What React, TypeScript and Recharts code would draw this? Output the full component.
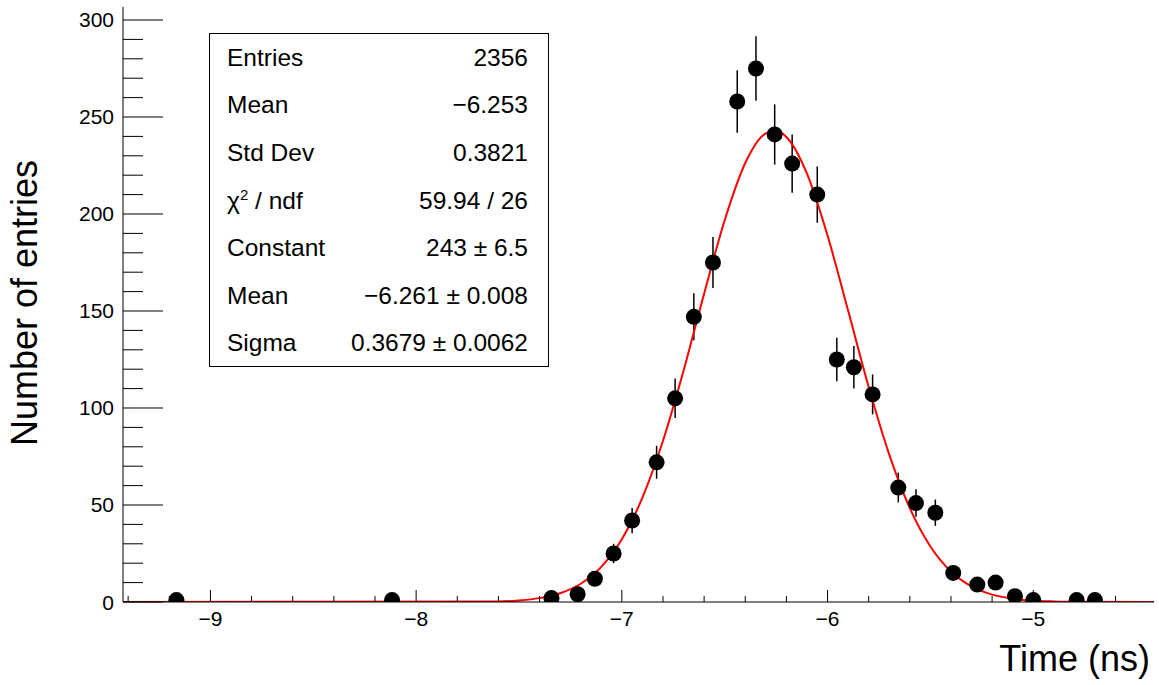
import React from 'react';
import {
  ComposedChart,
  Scatter,
  Line,
  XAxis,
  YAxis,
  ErrorBar,
} from 'recharts';

// histogram bins (bin centre in ns), counts
const binCenters = [
  -9.165, -8.117, -7.342, -7.215, -7.131, -7.04, -6.95, -6.831, -6.741, -6.65,
  -6.557, -6.439, -6.348, -6.257, -6.172, -6.05, -5.955, -5.872, -5.781, -5.656,
  -5.57, -5.476, -5.389, -5.272, -5.183, -5.089, -5.0, -4.789, -4.7,
];
const counts = [
  1, 1, 2, 4, 12, 25, 42, 72, 105, 147,
  175, 258, 275, 241, 226, 210, 125, 121, 107, 59,
  51, 46, 15, 9, 10, 3, 1, 1, 1,
];
const countErrors = [
  1, 1, 1.4, 2, 3.5, 5, 6.5, 8.5, 10.2, 12.1,
  13.2, 16.1, 16.6, 15.5, 15, 14.5, 11.2, 11, 10.3, 7.7,
  7.1, 6.8, 3.9, 3, 3.2, 1.7, 1, 1, 1,
];

// gaussian fit curve, sampled along the red line
const fitX = [
  -9.425, -7.6, -7.5, -7.4, -7.3, -7.2, -7.1, -7.0, -6.9, -6.8, -6.7, -6.6, -6.5,
  -6.4, -6.3, -6.25, -6.2, -6.1, -6.0, -5.9, -5.8, -5.7, -5.6, -5.5, -5.4, -5.3,
  -5.2, -5.1, -5.0, -4.9, -4.8, -4.413,
];
const fitY = [
  0, 0.3, 0.8, 2.0, 4.5, 9.4, 18.1, 32.3, 53.8, 83.1, 119.2, 158.9, 196.8,
  226.3, 241.6, 243, 239.7, 220.8, 188.9, 150.2, 110.8, 76.0, 48.4, 28.6, 15.7, 8.0,
  3.8, 1.7, 0.7, 0.3, 0.1, 0,
];

const xTicks = [
  -9.4, -9.2, -9, -8.8, -8.6, -8.4, -8.2, -8, -7.8, -7.6, -7.4, -7.2, -7,
  -6.8, -6.6, -6.4, -6.2, -6, -5.8, -5.6, -5.4, -5.2, -5, -4.8, -4.6,
];
const yTicks = [
  0, 10, 20, 30, 40, 50, 60, 70, 80, 90, 100, 110, 120, 130, 140, 150,
  160, 170, 180, 190, 200, 210, 220, 230, 240, 250, 260, 270, 280, 290, 300,
];

const statRows: [React.ReactNode, string][] = [
  ['Entries', '2356'],
  ['Mean', '\u22126.253'],
  ['Std Dev', '0.3821'],
  [<span>χ<sup style={{ fontSize: 15 }}>2</sup> / ndf</span>, '59.94 / 26'],
  ['Constant', '243 \u00b1 6.5'],
  ['Mean', '\u22126.261 \u00b1 0.008'],
  ['Sigma', '0.3679 \u00b1 0.0062'],
];

const histData = binCenters.map((x, i) => ({ x, y: counts[i], err: countErrors[i] }));
const fitData = fitX.map((x, i) => ({ x, y: fitY[i] }));

const FONT = '"Liberation Sans", Arial, Helvetica, sans-serif';

const fmt = (v: number) => (v < 0 ? '\u2212' + Math.abs(v) : String(v));

const BottomTick = ({ x, y, payload }: any) => {
  const major = Number.isInteger(payload.value);
  return (
    <g>
      <line x1={x} x2={x} y1={y} y2={y - (major ? 12 : 6)} stroke="#000" />
      {major && (
        <text x={x} y={y + 24} textAnchor="middle" fontSize={21} fontFamily={FONT} fill="#000">
          {fmt(payload.value)}
        </text>
      )}
    </g>
  );
};

const TopTick = ({ x, y, payload }: any) => {
  const major = Number.isInteger(payload.value);
  return <line x1={x} x2={x} y1={y} y2={y + (major ? 12 : 6)} stroke="#000" />;
};

const LeftTick = ({ x, y, payload }: any) => {
  const major = payload.value % 50 === 0;
  return (
    <g>
      <line x1={x} x2={x + (major ? 40 : 20)} y1={y} y2={y} stroke="#000" />
      {major && (
        <text x={x - 9} y={y + 7.5} textAnchor="end" fontSize={21} fontFamily={FONT} fill="#000">
          {payload.value}
        </text>
      )}
    </g>
  );
};

const RightTick = ({ x, y, payload }: any) => {
  const major = payload.value % 50 === 0;
  return <line x1={x} x2={x - (major ? 40 : 20)} y1={y} y2={y} stroke="#000" />;
};

const Dot = (props: any) => <circle cx={props.cx} cy={props.cy} r={8} fill="#000" />;

export default function App() {
  return (
    <div style={{ position: 'absolute', left: 0, top: 0, width: 1159, height: 685, background: '#fff', fontFamily: FONT }}>
      <ComposedChart
        width={1159}
        height={685}
        margin={{ top: 7, right: 5, bottom: 33, left: 0 }}
      >
        <XAxis
          xAxisId="bottom"
          dataKey="x"
          type="number"
          domain={[-9.425, -4.413]}
          allowDataOverflow
          ticks={xTicks}
          interval={0}
          height={50}
          tickSize={0}
          tickMargin={0}
          tick={<BottomTick />}
          stroke="#000"
        />
        <XAxis
          xAxisId="top"
          orientation="top"
          dataKey="x"
          type="number"
          domain={[-9.425, -4.413]}
          allowDataOverflow
          ticks={xTicks}
          interval={0}
          height={0}
          tickSize={0}
          tickMargin={0}
          tick={<TopTick />}
          stroke="#000"
        />
        <YAxis
          yAxisId="left"
          dataKey="y"
          type="number"
          domain={[0, 306.7]}
          allowDataOverflow
          ticks={yTicks}
          interval={0}
          width={123}
          tickSize={0}
          tickMargin={0}
          tick={<LeftTick />}
          stroke="#000"
        />
        <YAxis
          yAxisId="right"
          orientation="right"
          dataKey="y"
          type="number"
          domain={[0, 306.7]}
          allowDataOverflow
          ticks={yTicks}
          interval={0}
          width={0}
          tickSize={0}
          tickMargin={0}
          tick={<RightTick />}
          stroke="#000"
        />
        <Scatter
          xAxisId="bottom"
          yAxisId="left"
          data={histData}
          dataKey="y"
          shape={<Dot />}
          isAnimationActive={false}
        >
          <ErrorBar dataKey="err" direction="y" width={0} stroke="#000" strokeWidth={1.5} />
        </Scatter>
        <Line
          xAxisId="bottom"
          yAxisId="left"
          data={fitData}
          dataKey="y"
          type="monotone"
          stroke="#ff0000"
          strokeWidth={2}
          dot={false}
          activeDot={false}
          isAnimationActive={false}
        />
      </ComposedChart>

      <div
        style={{
          position: 'absolute',
          left: 209,
          top: 33,
          width: 340,
          height: 334,
          border: '1px solid #000',
          background: '#fff',
          padding: '0 20px 0 17px',
          boxSizing: 'border-box',
          fontSize: 24.5,
          color: '#000',
        }}
      >
        {statRows.map(([k, v], i) => (
          <div
            key={i}
            style={{ height: 47.6, display: 'flex', justifyContent: 'space-between', alignItems: 'center' }}
          >
            <span>{k}</span>
            <span>{v}</span>
          </div>
        ))}
      </div>

      <div
        style={{
          position: 'absolute',
          left: 25,
          top: 303,
          transform: 'translate(-50%, -50%) rotate(-90deg)',
          whiteSpace: 'nowrap',
          fontSize: 36,
          color: '#000',
        }}
      >
        Number of entries
      </div>
      <div
        style={{
          position: 'absolute',
          right: 9,
          top: 638,
          whiteSpace: 'nowrap',
          fontSize: 36,
          color: '#000',
        }}
      >
        Time (ns)
      </div>
    </div>
  );
}
